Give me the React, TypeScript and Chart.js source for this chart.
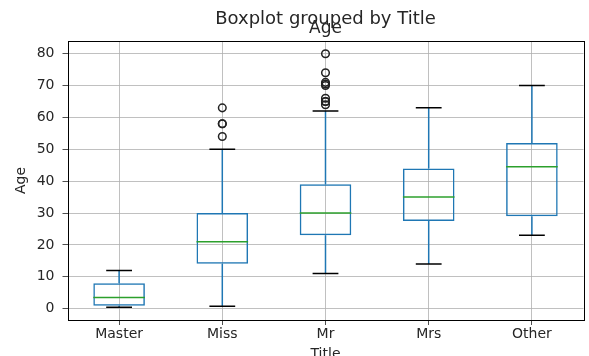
import { useEffect, useRef } from 'react';
import { Chart, registerables } from 'chart.js';

Chart.register(...registerables);

const categories = ['Master', 'Miss', 'Mr', 'Mrs', 'Other'];
const whiskerLow = [0.42, 0.75, 11, 14, 23];
const q1 = [0.9, 14.125, 23, 27.5, 29];
const medians = [3.5, 21, 30, 35, 44.5];
const q3 = [8, 30, 39, 44, 52];
const whiskerHigh = [12, 50, 62, 63, 70];
const outlierCategory = ['Miss', 'Miss', 'Miss', 'Miss', 'Mr', 'Mr', 'Mr', 'Mr', 'Mr', 'Mr', 'Mr', 'Mr', 'Mr'];
const outlierAge = [54, 58, 58, 63, 64, 65, 65, 66, 70, 70.5, 71, 74, 80];
const yTicks = [0, 10, 20, 30, 40, 50, 60, 70, 80];
const yMin = -3.56;
const yMax = 83.98;

const FONT = '"DejaVu Sans", sans-serif';
const TEXT = '#262626';

const boxPlugin = {
  id: 'boxParts',
  afterDatasetsDraw(chart: any) {
    const { ctx } = chart;
    const xs = chart.scales.x;
    const ys = chart.scales.y;
    const step = xs.getPixelForValue(1) - xs.getPixelForValue(0);
    const boxHalf = step * 0.25;
    const capHalf = boxHalf / 2;
    ctx.save();
    categories.forEach((_, i) => {
      const x = xs.getPixelForValue(i);
      ctx.strokeStyle = '#1f77b4';
      ctx.lineWidth = 1.5;
      ctx.beginPath();
      ctx.moveTo(x, ys.getPixelForValue(q3[i]));
      ctx.lineTo(x, ys.getPixelForValue(whiskerHigh[i]));
      ctx.moveTo(x, ys.getPixelForValue(q1[i]));
      ctx.lineTo(x, ys.getPixelForValue(whiskerLow[i]));
      ctx.stroke();
      ctx.strokeStyle = '#000';
      ctx.beginPath();
      const yh = ys.getPixelForValue(whiskerHigh[i]);
      const yl = ys.getPixelForValue(whiskerLow[i]);
      ctx.moveTo(x - capHalf, yh);
      ctx.lineTo(x + capHalf, yh);
      ctx.moveTo(x - capHalf, yl);
      ctx.lineTo(x + capHalf, yl);
      ctx.stroke();
      ctx.strokeStyle = '#2ca02c';
      ctx.beginPath();
      const ym = ys.getPixelForValue(medians[i]);
      ctx.moveTo(x - boxHalf, ym);
      ctx.lineTo(x + boxHalf, ym);
      ctx.stroke();
    });
    ctx.restore();
  },
  afterDraw(chart: any) {
    const { ctx, chartArea } = chart;
    ctx.save();
    ctx.strokeStyle = '#000';
    ctx.lineWidth = 1;
    ctx.strokeRect(
      Math.round(chartArea.left) + 0.5,
      Math.round(chartArea.top) + 0.5,
      Math.round(chartArea.right - chartArea.left),
      Math.round(chartArea.bottom - chartArea.top)
    );
    const cx = (chartArea.left + chartArea.right) / 2;
    ctx.fillStyle = TEXT;
    ctx.textAlign = 'center';
    ctx.textBaseline = 'alphabetic';
    ctx.font = `18px ${FONT}`;
    ctx.fillText('Boxplot grouped by Title', cx, 24);
    ctx.font = `17px ${FONT}`;
    ctx.fillText('Age', cx, 33);
    ctx.restore();
  },
};

export default function App() {
  const ref = useRef<HTMLCanvasElement>(null);
  useEffect(() => {
    if (!ref.current) return;
    const chart = new Chart(ref.current, {
      type: 'bar',
      data: {
        labels: categories,
        datasets: [
          {
            type: 'bar',
            data: categories.map((_, i) => [q1[i], q3[i]]) as any,
            backgroundColor: 'rgba(0,0,0,0)',
            borderColor: '#1f77b4',
            borderWidth: 1.5,
            borderSkipped: false,
            barPercentage: 0.5,
            categoryPercentage: 1,
          } as any,
          {
            type: 'scatter',
            data: outlierAge.map((v, i) => ({ x: outlierCategory[i], y: v })) as any,
            pointStyle: 'circle',
            pointRadius: 3.8,
            pointBorderWidth: 1.5,
            borderColor: '#222',
            backgroundColor: 'rgba(0,0,0,0)',
            showLine: false,
          } as any,
        ],
      },
      options: {
        responsive: false,
        animation: false,
        layout: { padding: { top: 41, right: 3, left: 0, bottom: 0 } },
        plugins: { legend: { display: false }, tooltip: { enabled: false } },
        scales: {
          x: {
            type: 'category',
            offset: true,
            grid: { offset: false, color: '#b0b0b0', lineWidth: 0.8, tickColor: '#222', tickLength: 5 },
            border: { display: false },
            ticks: { font: { family: FONT, size: 14 }, color: TEXT, padding: 1, maxRotation: 0 },
            title: { display: true, text: 'Title', font: { family: FONT, size: 14 }, color: TEXT, padding: { top: 0, bottom: -6.5 } },
            afterFit: (s: any) => { s.height = 36; },
          },
          y: {
            type: 'linear',
            min: yMin,
            max: yMax,
            grid: { color: '#b0b0b0', lineWidth: 0.8, tickColor: '#222', tickLength: 5 },
            border: { display: false },
            ticks: { font: { family: FONT, size: 14 }, color: TEXT, padding: 8 },
            afterBuildTicks: (s: any) => { s.ticks = yTicks.map((v) => ({ value: v })); },
            title: { display: true, text: 'Age', font: { family: FONT, size: 14 }, color: TEXT, padding: { top: 13, bottom: 0 } },
            afterFit: (s: any) => { s.width = 67.5; },
          },
        },
      },
      plugins: [boxPlugin],
    });
    return () => chart.destroy();
  }, []);
  return (
    <div style={{ position: 'absolute', left: 0, top: 0, width: 589, height: 356, background: '#fff' }}>
      <canvas ref={ref} width={589} height={356} />
    </div>
  );
}
